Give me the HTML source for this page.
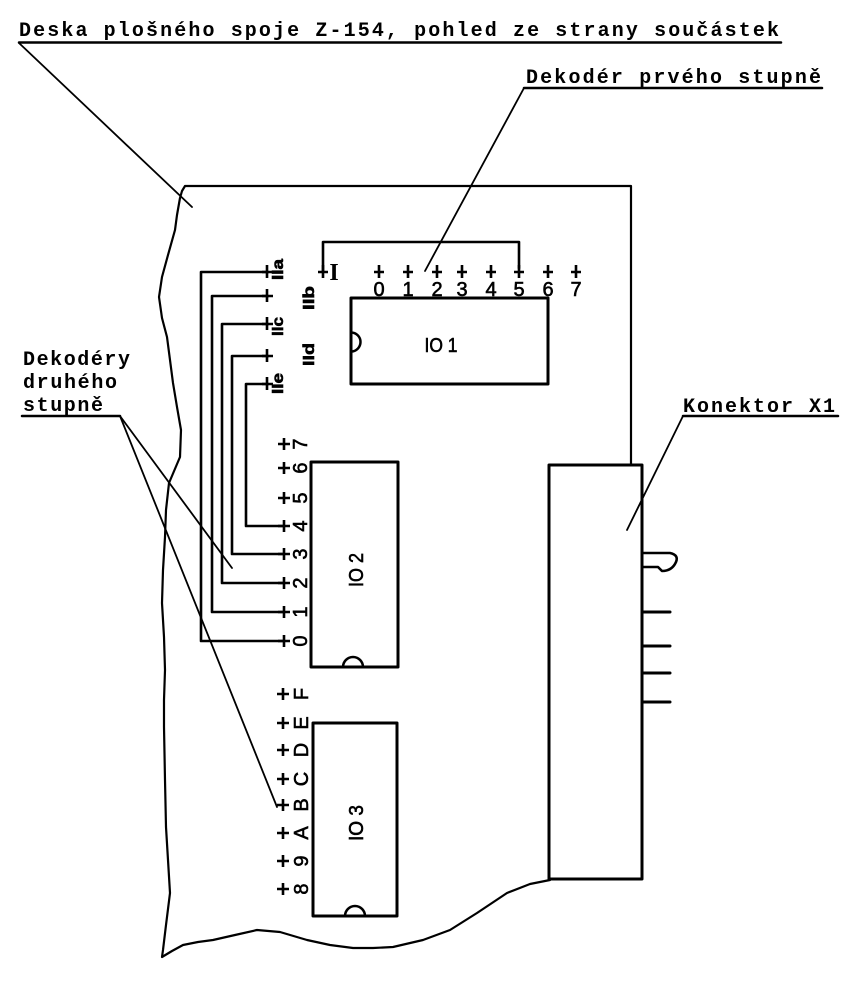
<!DOCTYPE html>
<html>
<head>
<meta charset="utf-8">
<style>
  html, body { margin: 0; padding: 0; background: #fff; }
  svg { display: block; }
  .mono { font-family: "Liberation Mono", "DejaVu Sans Mono", monospace; font-size: 20px; font-weight: bold; fill: #000; }
  .sans { font-family: "Liberation Sans", "DejaVu Sans", sans-serif; fill: #000; stroke: #000; stroke-width: 0.6px; }
</style>
</head>
<body>
<svg width="856" height="981" viewBox="0 0 856 981" xmlns="http://www.w3.org/2000/svg">
  <rect x="0" y="0" width="856" height="981" fill="#fff"/>

  <!-- Labels (dot-matrix style) -->
  <text class="mono" x="19" y="36" textLength="760" lengthAdjust="spacing">Deska plošného spoje Z-154, pohled ze strany součástek</text>
  <text class="mono" x="526" y="83" textLength="295" lengthAdjust="spacing">Dekodér prvého stupně</text>
  <text class="mono" x="683" y="412" textLength="152" lengthAdjust="spacing">Konektor X1</text>
  <text class="mono" x="23" y="365" textLength="107" lengthAdjust="spacing">Dekodéry</text>
  <text class="mono" x="23" y="388" textLength="94" lengthAdjust="spacing">druhého</text>
  <text class="mono" x="23" y="411" textLength="80" lengthAdjust="spacing">stupně</text>

  <g stroke="#000" fill="none" stroke-linecap="round" stroke-linejoin="round">
    <!-- underlines -->
    <line x1="19" y1="42.5" x2="781" y2="42.5" stroke-width="2.5"/>
    <line x1="524" y1="88" x2="822" y2="88" stroke-width="2.5"/>
    <line x1="683" y1="416" x2="838" y2="416" stroke-width="2.5"/>
    <line x1="22" y1="416" x2="120" y2="416" stroke-width="2.5"/>

    <!-- leaders -->
    <line x1="19" y1="43" x2="192" y2="207" stroke-width="1.8"/>
    <line x1="524" y1="88" x2="425" y2="271" stroke-width="1.8"/>
    <line x1="683" y1="416" x2="627" y2="530" stroke-width="1.8"/>
    <line x1="120" y1="416" x2="232" y2="568" stroke-width="1.8"/>
    <line x1="120" y1="416" x2="277" y2="807" stroke-width="1.8"/>

    <!-- board outline -->
    <polyline stroke-width="2.2" points="631,465 631,186 185,186 182,191 180,198 177,215 175,230 168,255 162,277 159,297 162,318 167,337 170,360 173,383 177,407 181,430 180,457 169,483 166,510 165,537 163,570 162,603 164,637 165,670 164,700 164,727 165,780 166,827 168,860 170,893 166,925 163,950 162,957 172,951 183,945 198,942 213,940 235,935 257,930 280,932 307,940 330,945 353,948 373,948 393,947 423,940 450,930 477,913 507,893 530,884 550,880"/>

    <!-- connector X1 -->
    <rect x="549" y="465" width="93" height="414" stroke-width="3"/>
    <path d="M642,553 L670,553 Q679,555 676,562 Q672,571 662,571 L658,567 L642,567" stroke-width="2.6"/>
    <line x1="642" y1="612" x2="670" y2="612" stroke-width="3"/>
    <line x1="642" y1="646" x2="670" y2="646" stroke-width="3"/>
    <line x1="642" y1="673" x2="670" y2="673" stroke-width="3"/>
    <line x1="642" y1="702" x2="670" y2="702" stroke-width="3"/>

    <!-- IO1 -->
    <rect x="351" y="298" width="197" height="86" stroke-width="3"/>
    <path d="M351,332.5 A9.5,9.5 0 0 1 351,351.5" stroke-width="2.5"/>

    <!-- IO2 -->
    <rect x="311" y="462" width="87" height="205" stroke-width="3"/>
    <path d="M343,667 A10,10 0 0 1 363,667" stroke-width="2.5"/>

    <!-- IO3 -->
    <rect x="313" y="723" width="84" height="193" stroke-width="3"/>
    <path d="M345,916 A10,10 0 0 1 365,916" stroke-width="2.5"/>

    <!-- wires -->
    <polyline stroke-width="2.6" points="268,272 201,272 201,641 284,641"/>
    <polyline stroke-width="2.6" points="268,296 212,296 212,612 284,612"/>
    <polyline stroke-width="2.6" points="268,324 222,324 222,583 284,583"/>
    <polyline stroke-width="2.6" points="268,356 232,356 232,554 284,554"/>
    <polyline stroke-width="2.6" points="268,384 246,384 246,526 284,526"/>
    <polyline stroke-width="2.6" points="323,272 323,242 519,242 519,268"/>

    <!-- crosses -->
    <g stroke-width="2.6" stroke-linecap="butt">
      <path d="M374,272 h10 M379,265 v13"/>
      <path d="M403,272 h10 M408,265 v13"/>
      <path d="M432,272 h10 M437,265 v13"/>
      <path d="M457,272 h10 M462,265 v13"/>
      <path d="M486,272 h10 M491,265 v13"/>
      <path d="M514,272 h10 M519,265 v13"/>
      <path d="M543,272 h10 M548,265 v13"/>
      <path d="M571,272 h10 M576,265 v13"/>
      <path d="M318,272 h10 M323,265 v13"/>
      <path d="M262,272 h11 M267,265 v13"/>
      <path d="M262,296 h11 M267,289 v13"/>
      <path d="M262,324 h11 M267,317 v13"/>
      <path d="M262,356 h11 M267,349 v13"/>
      <path d="M262,384 h11 M267,377 v13"/>
      <path d="M278,641 h12 M284,635 v12"/>
      <path d="M278,612 h12 M284,606 v12"/>
      <path d="M278,583 h12 M284,577 v12"/>
      <path d="M278,554 h12 M284,548 v12"/>
      <path d="M278,526 h12 M284,520 v12"/>
      <path d="M278,498 h12 M284,492 v12"/>
      <path d="M278,468 h12 M284,462 v12"/>
      <path d="M278,444 h12 M284,438 v12"/>
      <path d="M277,694 h12 M283,688 v12"/>
      <path d="M277,723 h12 M283,717 v12"/>
      <path d="M277,750 h12 M283,744 v12"/>
      <path d="M277,779 h12 M283,773 v12"/>
      <path d="M277,805 h12 M283,799 v12"/>
      <path d="M277,833 h12 M283,827 v12"/>
      <path d="M277,861 h12 M283,855 v12"/>
      <path d="M277,889 h12 M283,883 v12"/>
    </g>
  </g>

  <!-- "I" group label -->
  <text x="334" y="280" font-size="24" font-weight="bold" font-family="Liberation Serif, serif" text-anchor="middle" fill="#000">I</text>

  <!-- IO1 top digits -->
  <g class="sans" font-size="20" text-anchor="middle">
    <text x="379" y="296">0</text>
    <text x="408" y="296">1</text>
    <text x="437" y="296">2</text>
    <text x="462" y="296">3</text>
    <text x="491" y="296">4</text>
    <text x="519" y="296">5</text>
    <text x="548" y="296">6</text>
    <text x="576" y="296">7</text>
  </g>

  <!-- chip labels -->
  <text class="sans" x="441" y="352" font-size="20" text-anchor="middle" textLength="33" lengthAdjust="spacingAndGlyphs">IO 1</text>
  <text class="sans" font-size="20" text-anchor="middle" transform="translate(363,570) rotate(-90)" textLength="34" lengthAdjust="spacingAndGlyphs">IO 2</text>
  <text class="sans" font-size="20" text-anchor="middle" transform="translate(363,823) rotate(-90)" textLength="36" lengthAdjust="spacingAndGlyphs">IO 3</text>

  <!-- IIa..IIe rotated labels -->
  <g class="sans" font-size="16" font-weight="bold">
    <text transform="translate(283,280) rotate(-90)" textLength="21" lengthAdjust="spacingAndGlyphs">IIa</text>
    <text transform="translate(314,310) rotate(-90)" textLength="24" lengthAdjust="spacingAndGlyphs">IIb</text>
    <text transform="translate(283,336) rotate(-90)" textLength="19" lengthAdjust="spacingAndGlyphs">IIc</text>
    <text transform="translate(314,366) rotate(-90)" textLength="23" lengthAdjust="spacingAndGlyphs">IId</text>
    <text transform="translate(283,394) rotate(-90)" textLength="21" lengthAdjust="spacingAndGlyphs">IIe</text>
  </g>

  <!-- IO2 pin digits (rotated) -->
  <g class="sans" font-size="20" text-anchor="middle">
    <text transform="translate(307,641) rotate(-90)">0</text>
    <text transform="translate(307,612) rotate(-90)">1</text>
    <text transform="translate(307,583) rotate(-90)">2</text>
    <text transform="translate(307,554) rotate(-90)">3</text>
    <text transform="translate(307,526) rotate(-90)">4</text>
    <text transform="translate(307,498) rotate(-90)">5</text>
    <text transform="translate(307,468) rotate(-90)">6</text>
    <text transform="translate(307,444) rotate(-90)">7</text>
  </g>

  <!-- IO3 pin labels (rotated) -->
  <g class="sans" font-size="20" text-anchor="middle">
    <text transform="translate(308,694) rotate(-90)">F</text>
    <text transform="translate(308,723) rotate(-90)">E</text>
    <text transform="translate(308,750) rotate(-90)">D</text>
    <text transform="translate(308,779) rotate(-90)">C</text>
    <text transform="translate(308,805) rotate(-90)">B</text>
    <text transform="translate(308,833) rotate(-90)">A</text>
    <text transform="translate(308,861) rotate(-90)">9</text>
    <text transform="translate(308,889) rotate(-90)">8</text>
  </g>
</svg>
</body>
</html>
